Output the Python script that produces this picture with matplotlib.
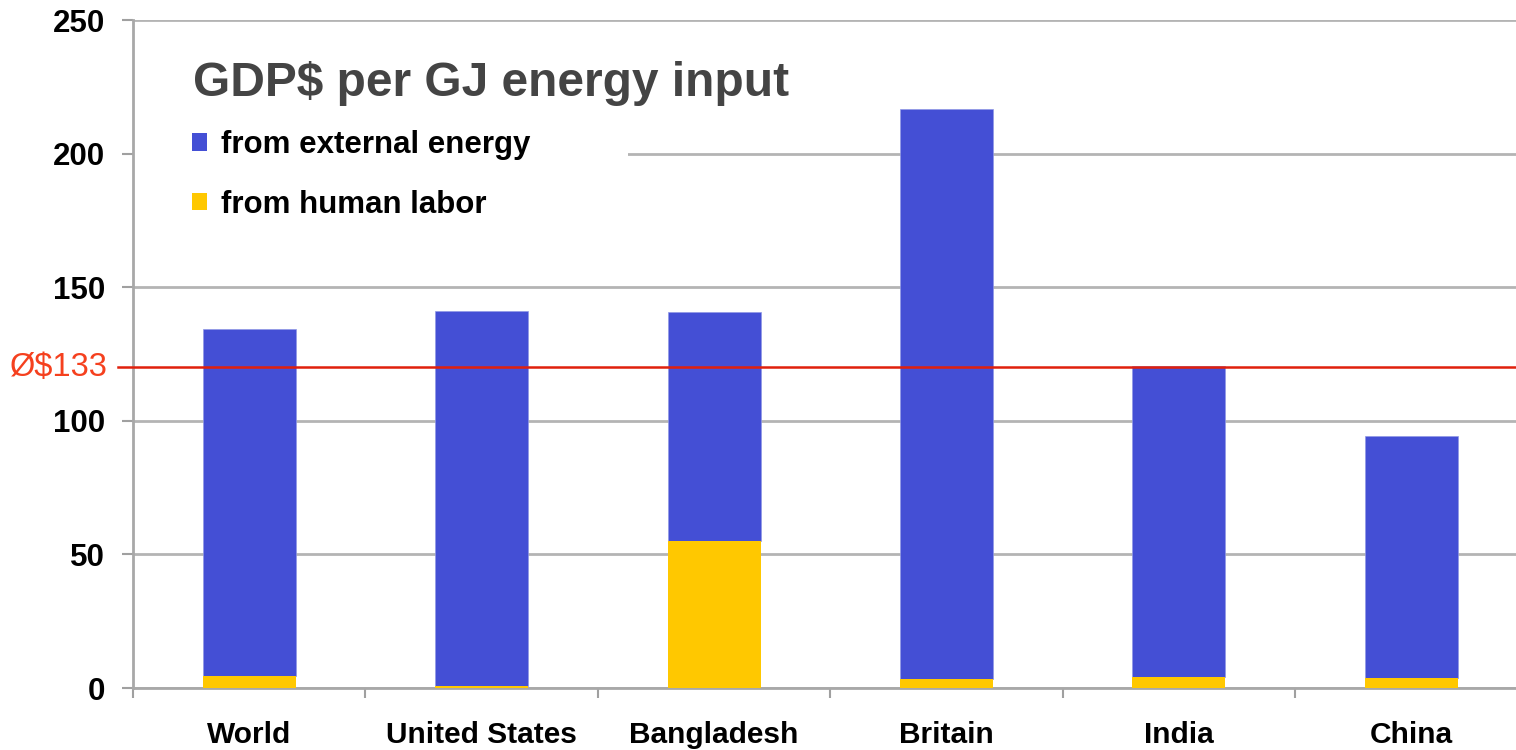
import matplotlib
matplotlib.use("Agg")
import matplotlib.pyplot as plt
from matplotlib.patches import Patch, Rectangle

plt.rcParams['font.family'] = ['Liberation Sans', 'DejaVu Sans']

categories = ["World", "United States", "Bangladesh", "Britain", "India", "China"]
labor = [4.5, 0.9, 55.0, 3.4, 4.1, 3.7]
external = [129.9, 140.3, 85.7, 213.2, 116.4, 90.6]
avg_line = 120
avg_label = "Ø$133"
yticks = [0, 50, 100, 150, 200, 250]

BLUE = "#444fd5"
YELLOW = "#ffc800"
GRID = "#b4b4b4"

W, H = 1516, 750
fig = plt.figure(figsize=(W / 100, H / 100), dpi=100)
ax = fig.add_axes([133 / W, (750 - 688) / H, (1516 - 133) / W, (688 - 20) / H])

x = list(range(len(categories)))
ax.bar(x, external, bottom=labor, width=0.4, color=BLUE, edgecolor="#9098e6", linewidth=0.5, zorder=3)
ax.bar(x, labor, width=0.4, color=YELLOW, edgecolor="none", linewidth=0, zorder=4)

ax.set_xlim(-0.5, 5.45)
ax.set_ylim(0, 250)
ax.set_yticks(yticks)
ax.set_yticklabels([str(v) for v in yticks], fontsize=22.5, fontweight="bold")
ax.set_xticks(x)
ax.set_xticklabels(categories, fontsize=21.5, fontweight="bold")
ax.set_xticks([i - 0.5 for i in range(len(categories))], minor=True)
ax.tick_params(axis="x", which="major", length=0, pad=24)
ax.tick_params(axis="x", which="minor", length=7, width=1.5, color="#a0a0a0", direction="out")
ax.tick_params(axis="y", which="major", length=8, width=1.5, color="#a0a0a0", direction="out", pad=12)

ax.yaxis.grid(True, color=GRID, linewidth=2, zorder=0)
ax.set_axisbelow(True)
for s in ["top", "right"]:
    ax.spines[s].set_visible(False)
for s in ["left", "bottom"]:
    ax.spines[s].set_color("#a8a8a8")
    ax.spines[s].set_linewidth(2)

# average line
ax.axhline(avg_line, xmin=-(133 - 118) / (1516 - 133), xmax=1, color="#e0200c",
           linewidth=1.8, zorder=5, clip_on=False)
ax.text(-0.5 - (133 - 108) / 232.5, avg_line, avg_label, color="#f5401e", fontsize=23.5,
        ha="right", va="center")

# white box hiding gridline behind legend
ax.add_patch(Rectangle((0, 0.72), (628 - 133) / (1516 - 133), 0.15, transform=ax.transAxes,
                       facecolor="white", edgecolor="none", zorder=1))

ax.text((193 - 133) / (1516 - 133), (688 - 83) / 668, "GDP$ per GJ energy input",
        transform=ax.transAxes, fontsize=34.5, fontweight="bold", color="#444444",
        ha="left", va="center", zorder=6)

handles = [Patch(facecolor=BLUE, edgecolor="none"), Patch(facecolor=YELLOW, edgecolor="none")]
leg = ax.legend(handles, ["from external energy", "from human labor"],
                loc="upper left", bbox_to_anchor=((192 - 133) / (1516 - 133), (688 - 130) / 668),
                frameon=False, handlelength=0.48, handleheight=0.48, handletextpad=0.45,
                labelspacing=0.95, borderaxespad=0, borderpad=0,
                prop={"size": 22.5, "weight": "bold"})
leg.set_zorder(6)

fig.savefig("out.png", dpi=100)
